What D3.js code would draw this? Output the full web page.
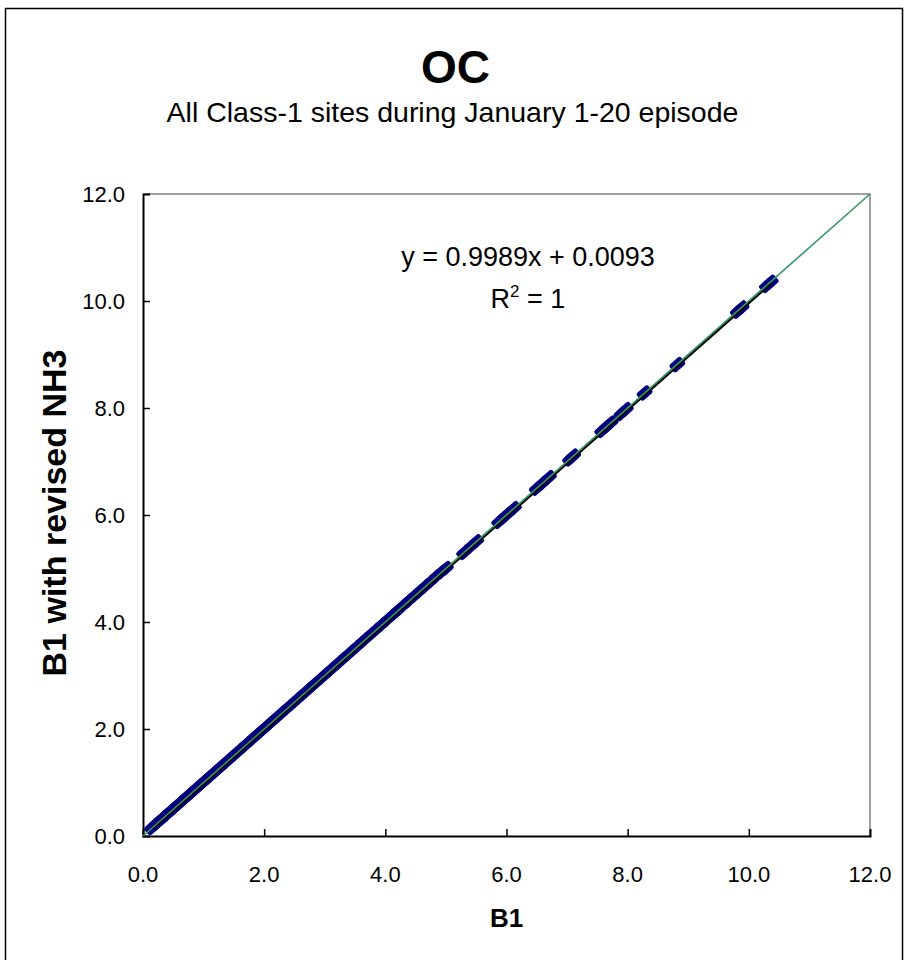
<!DOCTYPE html>
<html>
<head>
<meta charset="utf-8">
<script src="https://cdn.jsdelivr.net/npm/d3@7"></script>
<style>
  html, body { margin: 0; padding: 0; background: #fff; }
  svg { display: block; }
  text { font-family: "Liberation Sans", Arial, sans-serif; fill: #000; }
</style>
</head>
<body>
<svg id="chart" width="905" height="960"></svg>
<script>
const chartTitle = "OC";
const chartSubtitle = "All Class-1 sites during January 1-20 episode";
const xTitle = "B1";
const yTitle = "B1 with revised NH3";
const tickValues = [0, 2, 4, 6, 8, 10, 12];
const trendSlope = 0.9989;
const trendIntercept = 0.0093;
const eqLabel = "y = 0.9989x + 0.0093";

const xValues = [0.15,0.17,0.20,0.23,0.26,0.29,0.32,0.35,0.38,0.41,0.44,0.47,0.50,0.53,0.56,0.60,0.63,0.66,0.70,0.73,0.77,0.80,0.84,0.87,0.91,0.94,0.98,1.02,1.05,1.09,1.13,1.17,1.20,1.24,1.28,1.32,1.36,1.40,1.45,1.49,1.53,1.57,1.62,1.66,1.71,1.75,1.80,1.84,1.89,1.94,1.99,2.04,2.09,2.14,2.19,2.25,2.30,2.36,2.41,2.47,2.53,2.59,2.65,2.71,2.77,2.83,2.90,2.96,3.03,3.10,3.17,3.24,3.31,3.38,3.46,3.53,3.61,3.69,3.77,3.86,3.94,4.03,4.15,4.20,4.30,4.39,4.48,4.57,4.66,4.75,4.84,4.93,5.00,5.30,5.42,5.50,5.88,5.95,6.02,6.12,6.50,6.58,6.70,7.05,7.10,7.58,7.65,7.72,7.90,7.97,8.28,8.82,9.82,9.88,10.30,10.36];
const yValues = [0.16,0.18,0.21,0.24,0.27,0.30,0.33,0.36,0.39,0.42,0.45,0.48,0.51,0.54,0.57,0.61,0.64,0.67,0.71,0.74,0.78,0.81,0.85,0.88,0.92,0.95,0.99,1.03,1.06,1.10,1.14,1.18,1.21,1.25,1.29,1.33,1.37,1.41,1.46,1.50,1.54,1.58,1.63,1.67,1.72,1.76,1.81,1.85,1.90,1.95,2.00,2.05,2.10,2.15,2.20,2.26,2.31,2.37,2.42,2.48,2.54,2.60,2.66,2.72,2.78,2.84,2.91,2.97,3.04,3.11,3.18,3.25,3.32,3.39,3.47,3.54,3.62,3.70,3.78,3.87,3.95,4.04,4.16,4.21,4.31,4.40,4.49,4.58,4.67,4.76,4.85,4.94,5.00,5.30,5.42,5.50,5.88,5.95,6.02,6.12,6.50,6.58,6.70,7.05,7.10,7.58,7.65,7.72,7.90,7.97,8.28,8.81,9.81,9.87,10.29,10.35];

const svg = d3.select("#chart");
const W = 905, H = 960;
const plot = { left: 143, right: 870, top: 194, bottom: 836 };

// outer frame
svg.append("rect").attr("x", 5.5).attr("y", 8.5).attr("width", 897).attr("height", 960)
  .attr("fill", "#fff").attr("stroke", "#000").attr("stroke-width", 1.5);

const x = d3.scaleLinear().domain([0, 12]).range([plot.left, plot.right]);
const y = d3.scaleLinear().domain([0, 12]).range([plot.bottom, plot.top]);

// plot border (top/right grey)
svg.append("path")
  .attr("d", `M${plot.left},${plot.top}H${plot.right}V${plot.bottom}`)
  .attr("fill", "none").attr("stroke", "#808080").attr("stroke-width", 1.5);

// axes (ticks inside)
const xAxis = d3.axisTop(x).tickValues(tickValues).tickSize(7).tickFormat("");
const yAxis = d3.axisRight(y).tickValues(tickValues).tickSize(7).tickFormat("");
const gx = svg.append("g").attr("transform", `translate(0,${plot.bottom})`).call(xAxis);
const gy = svg.append("g").attr("transform", `translate(${plot.left},0)`).call(yAxis);
[gx, gy].forEach(g => {
  g.select(".domain").attr("stroke", "#000").attr("stroke-width", 2);
  g.selectAll(".tick line").attr("stroke", "#000").attr("stroke-width", 1.5);
});
gx.selectAll(".tick").filter(d => d === 0 || d === 12).select("line").remove();
gy.selectAll(".tick").filter(d => d === 0 || d === 12).select("line").remove();

// tick labels
svg.append("g").selectAll("text").data(tickValues).join("text")
  .attr("x", d => x(d)).attr("y", plot.bottom + 46)
  .attr("text-anchor", "middle").attr("font-size", 22)
  .text(d => d3.format(".1f")(d));
svg.append("g").selectAll("text").data(tickValues).join("text")
  .attr("x", plot.left - 18).attr("y", d => y(d) + 8)
  .attr("text-anchor", "end").attr("font-size", 22)
  .text(d => d3.format(".1f")(d));

// markers
const angle = -Math.atan2(y(0) - y(1), x(1) - x(0)) * 180 / Math.PI;
const pts = xValues.map((v, i) => [v, yValues[i]]);
svg.append("g").selectAll("rect").data(pts).join("rect")
  .attr("x", -7).attr("y", -4.5).attr("width", 14).attr("height", 9).attr("rx", 2)
  .attr("fill", "#000080").attr("stroke", "#000080").attr("stroke-width", 1)
  .attr("transform", d => `translate(${x(d[0])},${y(d[1])}) rotate(${angle})`);

// trend line (black)
const xmin = d3.min(xValues), xmax = d3.max(xValues);
svg.append("line")
  .attr("x1", x(xmin)).attr("y1", y(trendSlope * xmin + trendIntercept))
  .attr("x2", x(xmax)).attr("y2", y(trendSlope * xmax + trendIntercept))
  .attr("stroke", "#000").attr("stroke-width", 3)
  .attr("transform", "translate(0.8,0.8)");

// 1:1 line (green)
svg.append("line")
  .attr("x1", x(0)).attr("y1", y(0)).attr("x2", x(12)).attr("y2", y(12))
  .attr("stroke", "#339966").attr("stroke-width", 1.6);

// titles
svg.append("text").attr("x", W / 2 + 3).attr("y", 83).attr("text-anchor", "middle")
  .attr("font-size", 46).attr("font-weight", "bold").text(chartTitle);
svg.append("text").attr("x", W / 2).attr("y", 122).attr("text-anchor", "middle")
  .attr("font-size", 28.5).text(chartSubtitle);
svg.append("text").attr("x", (plot.left + plot.right) / 2).attr("y", 927).attr("text-anchor", "middle")
  .attr("font-size", 26).attr("font-weight", "bold").text(xTitle);
svg.append("text").attr("transform", `translate(66,${(plot.top + plot.bottom) / 2 - 2}) rotate(-90)`)
  .attr("text-anchor", "middle").attr("font-size", 34).attr("font-weight", "bold").text(yTitle);

// equation
const eq = svg.append("text").attr("x", 528).attr("y", 266).attr("text-anchor", "middle").attr("font-size", 27);
eq.text(eqLabel);
const r2 = svg.append("text").attr("x", 528).attr("y", 308).attr("text-anchor", "middle").attr("font-size", 27);
r2.append("tspan").text("R");
r2.append("tspan").attr("dy", -11).attr("font-size", 17).text("2");
r2.append("tspan").attr("dy", 11).text(" = 1");
</script>
</body>
</html>
